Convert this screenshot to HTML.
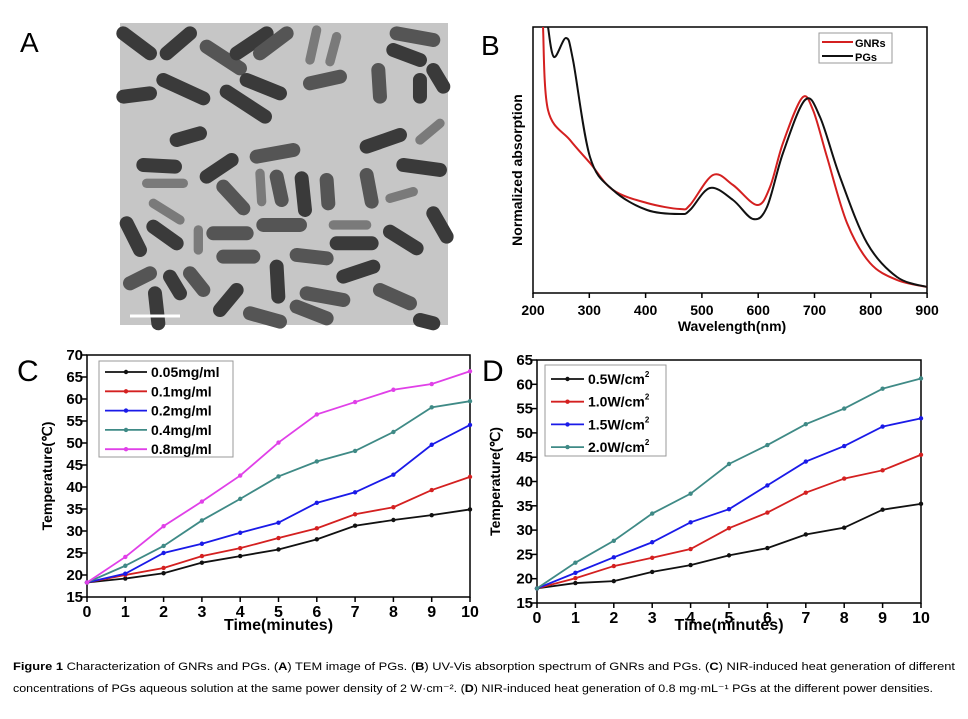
<!DOCTYPE html>
<html><head><meta charset="utf-8"><style>
html,body{margin:0;padding:0;background:#fff;width:968px;height:719px;overflow:hidden}
svg text{font-family:"Liberation Sans",Arial,sans-serif}
</style></head><body>
<svg id="s" width="968" height="719" xmlns="http://www.w3.org/2000/svg">
<rect width="968" height="719" fill="#fff"/>
<rect x="120" y="23" width="328" height="302" fill="#c6c6c6"/>
<g id="rods" transform="translate(100,10) scale(0.3333)" stroke-linecap="round" fill="none"></g>
<line x1="130" y1="316" x2="180" y2="316" stroke="#fff" stroke-width="3"/>
<text x="20" y="52" font-size="28">A</text>
<text x="481" y="55" font-size="28">B</text>
<text x="17" y="381" font-size="30">C</text>
<text x="482" y="381" font-size="30">D</text>
<g id="B"></g><g id="C"></g><g id="D"></g>
<text x="13" y="670" font-size="10.6" textLength="942" lengthAdjust="spacingAndGlyphs"><tspan font-weight="bold">Figure 1</tspan> Characterization of GNRs and PGs. (<tspan font-weight="bold">A</tspan>) TEM image of PGs. (<tspan font-weight="bold">B</tspan>) UV-Vis absorption spectrum of GNRs and PGs. (<tspan font-weight="bold">C</tspan>) NIR-induced heat generation of different</text>
<text x="13" y="692" font-size="10.6" textLength="920" lengthAdjust="spacingAndGlyphs">concentrations of PGs aqueous solution at the same power density of 2 W·cm⁻². (<tspan font-weight="bold">D</tspan>) NIR-induced heat generation of 0.8 mg·mL⁻¹ PGs at the different power densities.</text>
</svg>
<script>
const NS="http://www.w3.org/2000/svg";
function el(p,t,a,txt){const e=document.createElementNS(NS,t);for(const k in a)e.setAttribute(k,a[k]);if(txt!=null)e.textContent=txt;p.appendChild(e);return e;}
const rods=[[70,70,150,130,0],[200,130,270,70,0],[320,110,420,175,1],[410,130,500,70,0],[480,130,560,70,1],[190,210,310,265,0],[380,245,495,320,0],[440,210,540,250,0],[630,150,650,60,2],[690,155,710,80,2],[630,220,720,200,1],[890,70,1000,90,1],[880,120,960,150,0],[835,180,840,260,1],[960,210,960,260,0],[1000,180,1030,230,0],[70,260,150,250,0],[230,390,300,370,0],[800,410,900,375,0],[960,390,1020,340,2],[130,465,225,470,0],[470,440,580,420,1],[320,500,395,450,0],[370,530,430,595,1],[480,490,485,575,2],[530,500,545,570,1],[605,505,615,600,0],[680,510,685,580,1],[800,495,815,575,1],[870,565,940,545,2],[910,465,1020,480,0],[140,520,250,520,2],[160,580,240,630,2],[80,640,120,720,0],[160,650,230,700,0],[295,660,295,720,2],[340,670,440,670,1],[490,645,600,645,1],[700,645,800,645,2],[710,700,815,700,0],[870,665,950,715,0],[1000,610,1040,680,0],[370,740,460,740,1],[590,735,680,745,1],[730,800,820,770,0],[90,820,150,790,1],[210,800,240,850,0],[270,790,310,840,1],[530,770,535,860,0],[620,850,730,870,1],[840,840,930,880,1],[165,850,175,940,0],[360,900,410,840,0],[450,910,540,935,1],[590,890,680,925,1],[960,930,1000,940,0]];
const rc=["#3a3a3a","#555","#7a7a7a"];
const rg=document.getElementById("rods");
rods.forEach(r=>el(rg,"line",{x1:r[0],y1:r[1],x2:r[2],y2:r[3],stroke:rc[r[4]],"stroke-width":r[4]==2?28:42}));
function smooth(p){let d="M"+p[0];for(let i=0;i<p.length-1;i++){const p0=p[Math.max(0,i-1)],p1=p[i],p2=p[i+1],p3=p[Math.min(p.length-1,i+2)];const c1=[p1[0]+(p2[0]-p0[0])/6,p1[1]+(p2[1]-p0[1])/6],c2=[p2[0]-(p3[0]-p1[0])/6,p2[1]-(p3[1]-p1[1])/6];d+=" C"+c1+" "+c2+" "+p2;}return d;}
const B=document.getElementById("B");
el(B,"rect",{x:533,y:27,width:394,height:266,fill:"none",stroke:"#000","stroke-width":1.5});
for(let i=0;i<=7;i++){const x=533+i*56.3;el(B,"line",{x1:x,y1:293,x2:x,y2:298,stroke:"#000","stroke-width":1.5});el(B,"text",{x:x,y:315,"font-size":14,"font-weight":"bold","text-anchor":"middle"},200+i*100);}
el(B,"text",{x:732,y:331,"font-size":14,"font-weight":"bold","text-anchor":"middle"},"Wavelength(nm)");
el(B,"text",{x:0,y:0,"font-size":14,"font-weight":"bold","text-anchor":"middle",transform:"translate(522,170) rotate(-90)"},"Normalized absorption");
const red=[[543,27],[548,110],[570,140],[590,163],[613,190],[647,203],[680,209],[690,205],[713,175],[733,185],[757,205],[770,187],[783,143],[802,98],[813,110],[827,157],[847,223],[870,263],[897,280],[927,287]];
const blk=[[548,27],[554,57],[566,38],[573,60],[590,157],[613,190],[647,210],[680,214],[690,210],[710,188],[733,200],[753,219],[767,207],[783,153],[805,100],[820,117],[840,177],[867,243],[897,277],[927,287]];
el(B,"path",{d:smooth(red),fill:"none",stroke:"#d42020","stroke-width":2});
el(B,"path",{d:smooth(blk),fill:"none",stroke:"#111","stroke-width":2});
el(B,"rect",{x:819,y:33,width:73,height:30,fill:"#fff",stroke:"#999"});
el(B,"line",{x1:822,y1:42,x2:853,y2:42,stroke:"#d42020","stroke-width":2});
el(B,"line",{x1:822,y1:56,x2:853,y2:56,stroke:"#111","stroke-width":2});
el(B,"text",{x:855,y:47,"font-size":11,"font-weight":"bold"},"GNRs");
el(B,"text",{x:855,y:61,"font-size":11,"font-weight":"bold"},"PGs");
function plot(id,L,R,T,Bt,ymin,ymax,series,names,cols,leg,yw){
 const g=document.getElementById(id);
 const X=v=>L+(R-L)*v/10, Y=v=>Bt-(Bt-T)*(v-ymin)/(ymax-ymin);
 el(g,"rect",{x:L,y:T,width:R-L,height:Bt-T,fill:"none",stroke:"#000","stroke-width":1.5});
 for(let i=0;i<=10;i++){el(g,"line",{x1:X(i),y1:Bt,x2:X(i),y2:Bt+5,stroke:"#000","stroke-width":1.5});el(g,"text",{x:X(i),y:Bt+20,"font-size":16,"font-weight":"bold","text-anchor":"middle"},i);}
 for(let v=ymin;v<=ymax;v+=5){el(g,"line",{x1:L-5,y1:Y(v),x2:L,y2:Y(v),stroke:"#000","stroke-width":1.5});el(g,"text",{x:L-4,y:Y(v)+5,"font-size":15,"font-weight":"bold","text-anchor":"end"},v);}
 el(g,"text",{x:(L+R)/2,y:630,"font-size":16,"font-weight":"bold","text-anchor":"middle"},"Time(minutes)");
 el(g,"text",{x:0,y:0,"font-size":14,"font-weight":"bold","text-anchor":"middle",transform:`translate(${yw},${(T+Bt)/2}) rotate(-90)`},"Temperature(℃)");
 series.forEach((s,k)=>{el(g,"polyline",{points:s.map((v,i)=>X(i)+","+Y(v)).join(" "),fill:"none",stroke:cols[k],"stroke-width":1.8});s.forEach((v,i)=>el(g,"circle",{cx:X(i),cy:Y(v),r:2.2,fill:cols[k]}));});
 el(g,"rect",{x:leg[0],y:leg[1],width:leg[2],height:leg[3],fill:"#fff",stroke:"#999"});
 names.forEach((n,k)=>{const y=leg[4]+k*leg[5];el(g,"line",{x1:leg[0]+6,y1:y,x2:leg[0]+leg[6],y2:y,stroke:cols[k],"stroke-width":1.8});el(g,"circle",{cx:leg[0]+6+(leg[6]-6)/2,cy:y,r:2.2,fill:cols[k]});const t=el(g,"text",{x:leg[0]+leg[6]+4,y:y+5,"font-size":14,"font-weight":"bold"},n.replace("²",""));if(n.includes("²"))el(t,"tspan",{"font-size":8,dy:-7},"2");});
}
plot("C",87,470,355,597,15,70,[
[18.3,19.2,20.4,22.8,24.3,25.8,28.1,31.2,32.5,33.6,34.9],
[18.3,20,21.6,24.3,26.1,28.4,30.6,33.8,35.4,39.3,42.3],
[18.3,20.3,25,27.1,29.6,31.9,36.4,38.8,42.8,49.6,54.1],
[18.3,22.1,26.6,32.4,37.3,42.4,45.8,48.2,52.5,58.1,59.5],
[18.3,24.1,31.1,36.7,42.6,50.1,56.5,59.3,62.1,63.4,66.3]],
["0.05mg/ml","0.1mg/ml","0.2mg/ml","0.4mg/ml","0.8mg/ml"],
["#111","#d42020","#1a1ae8","#3f8a86","#e040e8"],[99,361,134,96,372,19.3,48],52);
plot("D",537,921,360,603,15,65,[
[18,19.1,19.5,21.4,22.8,24.8,26.3,29.1,30.5,34.2,35.4],
[18,20.1,22.6,24.3,26.1,30.4,33.6,37.7,40.6,42.3,45.5],
[18,21.2,24.4,27.5,31.6,34.3,39.2,44.1,47.3,51.3,53],
[18,23.3,27.8,33.4,37.5,43.6,47.5,51.8,55,59.1,61.2]],
["0.5W/cm²","1.0W/cm²","1.5W/cm²","2.0W/cm²"],
["#111","#d42020","#1a1ae8","#3f8a86"],[545,365,121,91,379,22.7,39],500);
</script>
</body></html>
